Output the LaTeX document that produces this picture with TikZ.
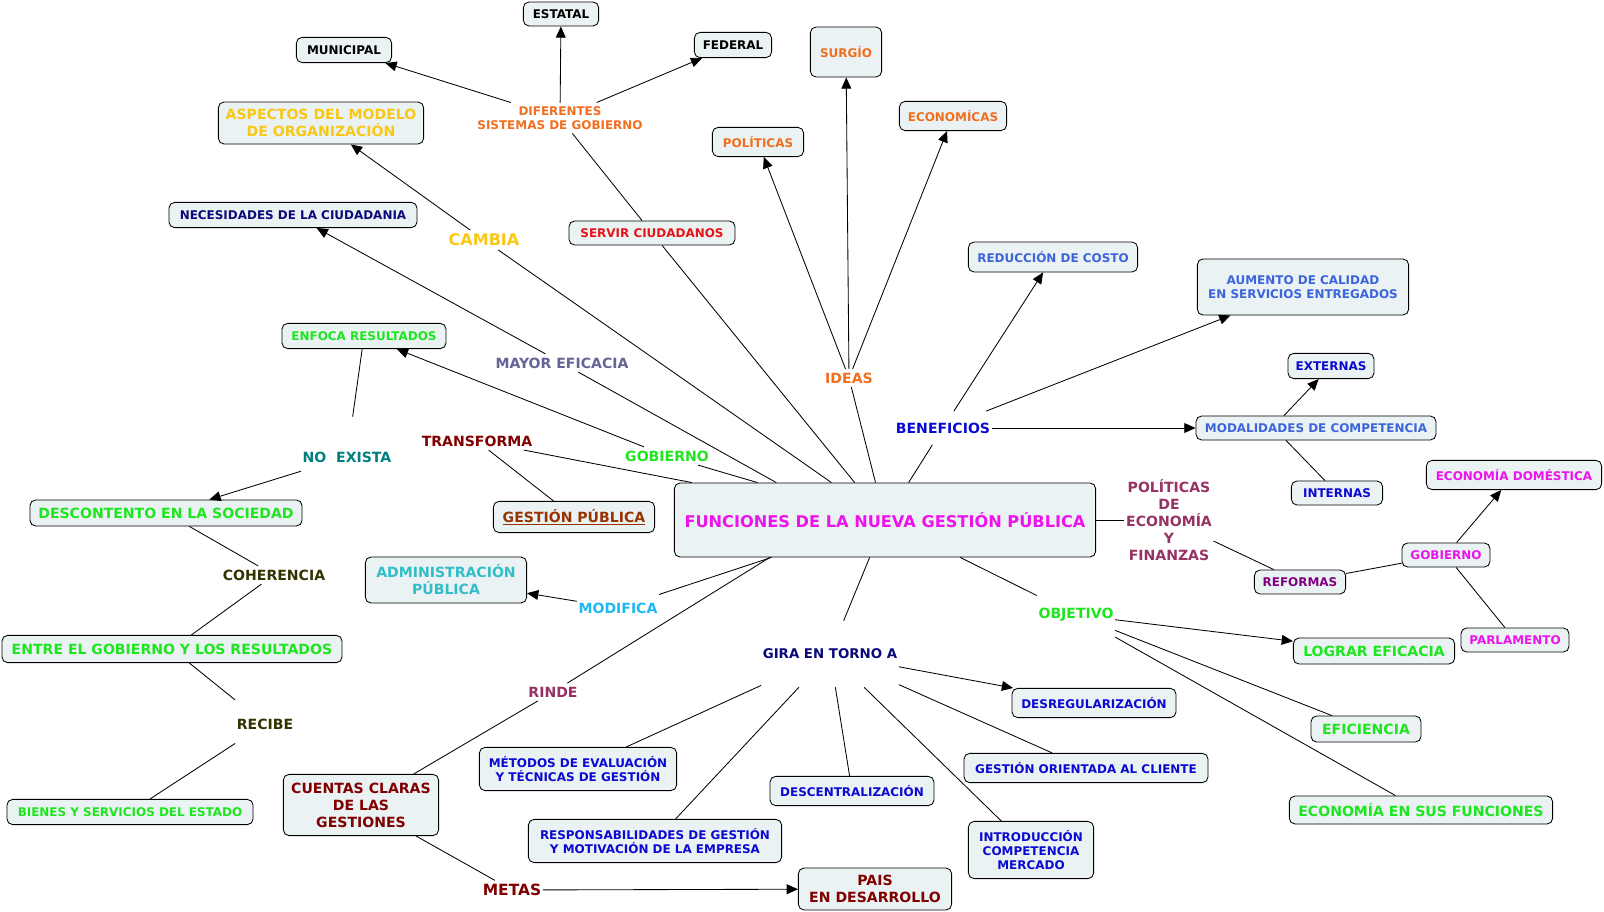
\documentclass[tikz,border=0pt]{standalone}
\usepackage{fontspec}
\setmainfont{DejaVu Sans}
\usepackage{tikz}
\usetikzlibrary{arrows.meta}

\definecolor{fondo}{RGB}{235,242,244}
\definecolor{naranja}{RGB}{240,110,30}
\definecolor{dorado}{RGB}{248,200,20}
\definecolor{marino}{RGB}{10,10,120}
\definecolor{rojo}{RGB}{230,20,20}
\definecolor{azulrey}{RGB}{60,100,220}
\definecolor{azul}{RGB}{10,10,210}
\definecolor{fucsia}{RGB}{235,20,235}
\definecolor{morado}{RGB}{128,0,128}
\definecolor{ciruela}{RGB}{150,50,100}
\definecolor{verde}{RGB}{30,230,30}
\definecolor{granate}{RGB}{128,0,0}
\definecolor{verdeazul}{RGB}{0,128,128}
\definecolor{oliva}{RGB}{51,51,0}
\definecolor{celeste}{RGB}{30,185,240}
\definecolor{turquesa}{RGB}{50,190,200}
\definecolor{pizarra}{RGB}{100,100,150}
\definecolor{marron}{RGB}{153,51,0}

\begin{document}
\begin{tikzpicture}[x=0.025cm,y=-0.025cm,
  caja/.style={draw,rounded corners=4pt,fill=fondo,align=center,inner sep=1pt,line width=0.6pt},
  enlace/.style={align=center,inner xsep=1pt,inner ysep=2.5pt},
  chica/.style={font=\bfseries\fontsize{8.5}{10.2}\selectfont},
  media/.style={font=\bfseries\fontsize{10}{12}\selectfont},
  linea/.style={line width=0.6pt},
  flecha/.style={line width=0.6pt,-{Triangle[length=8pt,width=7pt]}}]
\useasboundingbox (0,0) rectangle (1604,912);

\node[caja,chica,minimum width=1.88cm,minimum height=0.6cm] (estatal) at (561,14) {ESTATAL};
\node[caja,chica,minimum width=2.38cm,minimum height=0.63cm] (municipal) at (344,50) {MUNICIPAL};
\node[caja,chica,minimum width=1.93cm,minimum height=0.63cm] (federal) at (733,45) {FEDERAL};
\node[caja,chica,text=naranja,minimum width=1.78cm,minimum height=1.25cm] (surgio) at (846,52) {SURGÍO};
\node[caja,chica,text=naranja,minimum width=2.68cm,minimum height=0.73cm] (economicas) at (953,116) {ECONOMÍCAS};
\node[caja,chica,text=naranja,minimum width=2.28cm,minimum height=0.73cm] (politicas) at (758,142) {POLÍTICAS};
\node[caja,media,text=dorado,minimum width=5.13cm,minimum height=1.05cm] (aspectos) at (321,123) {ASPECTOS DEL MODELO\\DE ORGANIZACIÓN};
\node[caja,chica,text=marino,minimum width=6.2cm,minimum height=0.63cm] (necesidades) at (293,215) {NECESIDADES DE LA CIUDADANIA};
\node[caja,chica,text=rojo,minimum width=4.15cm,minimum height=0.6cm] (servir) at (652,233) {SERVIR CIUDADANOS};
\node[caja,chica,text=azulrey,minimum width=4.23cm,minimum height=0.75cm] (reduccion) at (1053,257) {REDUCCIÓN DE COSTO};
\node[caja,chica,text=azulrey,minimum width=5.28cm,minimum height=1.4cm] (aumento) at (1303,287) {AUMENTO DE CALIDAD\\EN SERVICIOS ENTREGADOS};
\node[caja,chica,text=azul,minimum width=2.15cm,minimum height=0.63cm] (externas) at (1331,366) {EXTERNAS};
\node[caja,chica,text=azulrey,minimum width=6cm,minimum height=0.6cm] (modalidades) at (1316,428) {MODALIDADES DE COMPETENCIA};
\node[caja,chica,text=azul,minimum width=2.28cm,minimum height=0.6cm] (internas) at (1337,493) {INTERNAS};
\node[caja,chica,text=fucsia,minimum width=4.38cm,minimum height=0.73cm] (domestica) at (1514,475) {ECONOMÍA DOMÉSTICA};
\node[caja,chica,text=fucsia,minimum width=2.2cm,minimum height=0.6cm] (gobiernoR) at (1446,555) {GOBIERNO};
\node[caja,chica,text=morado,minimum width=2.28cm,minimum height=0.6cm] (reformas) at (1300,582) {REFORMAS};
\node[caja,chica,text=fucsia,minimum width=2.7cm,minimum height=0.6cm] (parlamento) at (1515,640) {PARLAMENTO};
\node[caja,media,text=verde,minimum width=4.03cm,minimum height=0.65cm] (lograr) at (1374,651) {LOGRAR EFICACIA};
\node[caja,media,text=verde,minimum width=2.75cm,minimum height=0.65cm] (eficiencia) at (1366,729) {EFICIENCIA};
\node[caja,media,text=verde,minimum width=6.58cm,minimum height=0.7cm] (economia) at (1421,810) {ECONOMÍA EN SUS FUNCIONES};
\node[caja,chica,text=azul,minimum width=4.1cm,minimum height=0.73cm] (desreg) at (1094,703) {DESREGULARIZACIÓN};
\node[caja,chica,text=azul,minimum width=6.1cm,minimum height=0.73cm] (cliente) at (1086,768) {GESTIÓN ORIENTADA AL CLIENTE};
\node[caja,chica,text=azul,minimum width=3.13cm,minimum height=1.43cm] (introduccion) at (1031,850) {INTRODUCCIÓN\\COMPETENCIA\\MERCADO};
\node[caja,chica,text=azul,minimum width=4.1cm,minimum height=0.73cm] (descentral) at (852,791) {DESCENTRALIZACIÓN};
\node[caja,chica,text=azul,minimum width=4.93cm,minimum height=1.08cm] (metodos) at (578,769) {MÉTODOS DE EVALUACIÓN\\Y TÉCNICAS DE GESTIÓN};
\node[caja,chica,text=azul,minimum width=6.33cm,minimum height=1.08cm] (responsab) at (655,841) {RESPONSABILIDADES DE GESTIÓN\\Y MOTIVACIÓN DE LA EMPRESA};
\node[caja,media,text=granate,minimum width=3.83cm,minimum height=1.05cm] (pais) at (875,889) {PAIS\\ EN DESARROLLO};
\node[caja,media,text=granate,minimum width=3.88cm,minimum height=1.53cm] (cuentas) at (361,805) {CUENTAS CLARAS\\DE LAS\\GESTIONES};
\node[caja,chica,text=verde,minimum width=6.15cm,minimum height=0.63cm] (bienes) at (130,812) {BIENES Y SERVICIOS DEL ESTADO};
\node[caja,media,text=verde,minimum width=8.5cm,minimum height=0.68cm] (entre) at (172,649) {ENTRE EL GOBIERNO Y LOS RESULTADOS};
\node[caja,media,text=verde,minimum width=6.8cm,minimum height=0.65cm] (descontento) at (166,513) {DESCONTENTO EN LA SOCIEDAD};
\node[caja,chica,text=verde,minimum width=4.1cm,minimum height=0.63cm] (enfoca) at (364,336) {ENFOCA RESULTADOS};
\node[caja,media,text=turquesa,minimum width=4.03cm,minimum height=1.15cm] (admin) at (446,580) {ADMINISTRACIÓN\\PÚBLICA};
\node[caja,media,text=marron,minimum width=4.03cm,minimum height=0.78cm] (gestion) at (574,517) {\underline{GESTIÓN PÚBLICA}};
\node[caja,text=fucsia,font=\bfseries\fontsize{11.5}{14}\selectfont,minimum width=10.53cm,minimum height=1.85cm] (funciones) at (885,520) {FUNCIONES DE LA NUEVA GESTIÓN PÚBLICA};

\node[enlace,chica,text=naranja] (diferentes) at (560,118) {DIFERENTES\\SISTEMAS DE GOBIERNO};
\node[enlace,text=dorado,font=\bfseries\fontsize{11.4}{13.7}\selectfont] (cambia) at (484,240) {CAMBIA};
\node[enlace,media,text=pizarra] (mayor) at (562,363) {MAYOR EFICACIA};
\node[enlace,media,text=naranja] (ideas) at (849,378) {IDEAS};
\node[enlace,media,text=granate] (transforma) at (477,441) {TRANSFORMA};
\node[enlace,media,text=verde] (gobiernoV) at (667,456) {GOBIERNO};
\node[enlace,media,text=azul,minimum height=0.83cm] (beneficios) at (943,428) {BENEFICIOS};
\node[enlace,media,text=verdeazul,minimum height=2cm] (noexista) at (347,457) {NO~~EXISTA};
\node[enlace,media,text=oliva] (coherencia) at (274,575) {COHERENCIA};
\node[enlace,media,text=oliva,minimum height=1.3cm] (recibe) at (265,724) {RECIBE};
\node[enlace,media,text=celeste,minimum height=0.75cm] (modifica) at (618,608) {MODIFICA};
\node[enlace,media,text=ciruela] (rinde) at (553,692) {RINDE};
\node[enlace,text=marino,font=\bfseries\fontsize{9.5}{11.4}\selectfont,minimum height=1.65cm] (gira) at (830,654) {GIRA EN TORNO A};
\node[enlace,media,text=verde,minimum height=1.2cm] (objetivo) at (1076,615) {OBJETIVO};
\node[enlace,media,text=ciruela] (politicasE) at (1169,520) {POLÍTICAS\\DE\\ECONOMÍA\\Y\\FINANZAS};
\node[enlace,text=granate,font=\bfseries\fontsize{11}{13}\selectfont] (metas) at (512,890) {METAS};

\draw[linea] (funciones) -- (transforma);
\draw[linea] (transforma) -- (gestion);
\draw[linea] (funciones) -- (gobiernoV);
\draw[flecha] (gobiernoV) -- (enfoca);
\draw[linea] (enfoca) -- (noexista);
\draw[flecha] (noexista) -- (descontento);
\draw[linea] (descontento) -- (coherencia);
\draw[linea] (coherencia) -- (entre);
\draw[linea] (entre) -- (recibe);
\draw[linea] (recibe) -- (bienes);
\draw[linea] (funciones.161) -- (mayor);
\draw[flecha] (mayor) -- (necesidades);
\draw[linea] (funciones) -- (cambia);
\draw[flecha] (cambia) -- (aspectos);
\draw[linea] (funciones) -- (servir);
\draw[linea] (servir) -- (diferentes);
\draw[flecha] (diferentes) -- (municipal);
\draw[flecha] (diferentes) -- (estatal);
\draw[flecha] (diferentes) -- (federal);
\draw[linea] (funciones) -- (ideas);
\draw[flecha] (ideas) -- (politicas);
\draw[flecha] (ideas) -- (surgio);
\draw[flecha] (ideas) -- (economicas);
\draw[linea] (funciones) -- (beneficios);
\draw[flecha] (beneficios) -- (reduccion);
\draw[flecha] (beneficios) -- (aumento);
\draw[flecha] (beneficios) -- (modalidades);
\draw[flecha] ([xshift=-0.8cm]modalidades.north) -- (externas);
\draw[linea] ([xshift=-0.75cm]modalidades.south) -- (internas);
\draw[linea] (funciones) -- (politicasE);
\draw[linea] (politicasE) -- (reformas);
\draw[linea] (reformas) -- (gobiernoR);
\draw[flecha] (gobiernoR) -- (domestica);
\draw[linea] (gobiernoR) -- (parlamento);
\draw[linea] (funciones) -- (objetivo);
\draw[flecha] (objetivo) -- (lograr);
\draw[linea] (objetivo) -- (eficiencia);
\draw[linea] (objetivo) -- (economia);
\draw[linea] (funciones) -- (gira);
\draw[flecha] (gira) -- (desreg);
\draw[linea] (gira) -- (metodos);
\draw[linea] (gira) -- (responsab);
\draw[linea] (gira) -- (descentral);
\draw[linea] (gira) -- (introduccion);
\draw[linea] (gira) -- (cliente);
\draw[linea] (funciones) -- (modifica);
\draw[flecha] (modifica) -- (admin);
\draw[linea] (funciones.198) -- (rinde);
\draw[linea] (rinde) -- (cuentas);
\draw[linea] (cuentas) -- (metas);
\draw[flecha] (metas) -- (pais);
\end{tikzpicture}
\end{document}
